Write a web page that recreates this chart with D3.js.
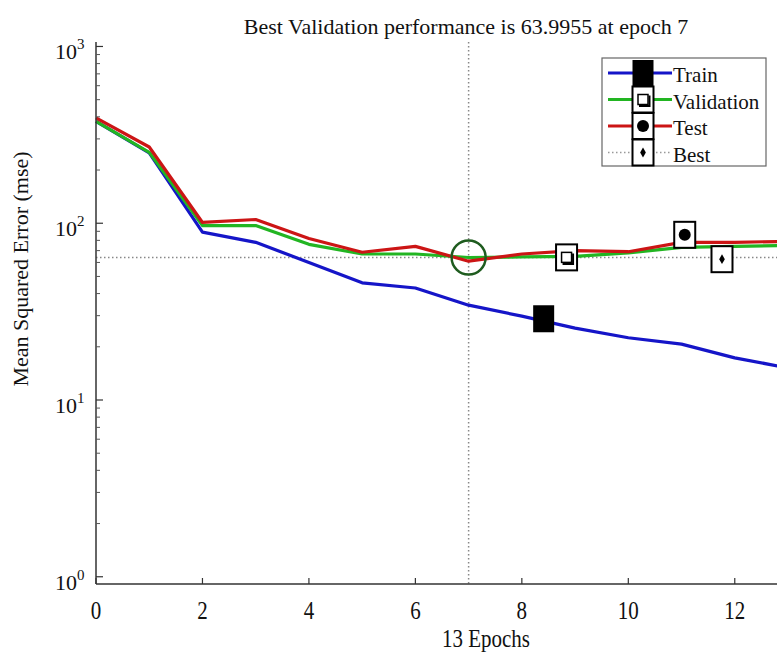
<!DOCTYPE html>
<html>
<head>
<meta charset="utf-8">
<script src="https://cdn.jsdelivr.net/npm/d3@7"></script>
<style>
  body { margin: 0; background: #fff; }
  text { font-family: "Liberation Serif", "DejaVu Serif", serif; fill: #111; }
</style>
</head>
<body>
<div id="chart"></div>
<script>
// epochs and mse per series
var epochs = [0, 1, 2, 3, 4, 5, 6, 7, 8, 9, 10, 11, 12, 13];
var train = [377, 250, 89, 78, 60, 46, 43, 34.4, 29.8, 25.5, 22.5, 20.7, 17.3, 15.2];
var validation = [377, 252, 97, 97, 76, 67, 67, 64, 64.5, 65, 68, 73, 74, 75];
var test = [395, 270, 101, 105, 82, 68.5, 74, 61, 67, 70, 69, 78, 78, 79];
var bestEpoch = 7, bestValue = 63.9955;
var xTicks = [0, 2, 4, 6, 8, 10, 12];
var yDecades = [0, 1, 2, 3];
// stray marker boxes scattered on the plot: [epoch, mse, kind]
var strayMarks = [[8.41, 29, "fill"], [8.84, 64.1, "square"], [11.06, 86, "dot"], [11.76, 62.6, "diamond"]];
var legendNames = ["Train", "Validation", "Test", "Best"];

var width = 777, height = 653;
var font = "Liberation Serif, DejaVu Serif, serif";
var svg = d3.select("#chart").append("svg")
  .attr("width", width).attr("height", height)
  .attr("font-family", font);

var x = d3.scaleLinear().domain([0, 13]).range([96, 788]);
var y = d3.scaleLog().domain([0.91, 1060]).range([584, 42]);

// best lines
svg.append("line")
  .attr("x1", x(0)).attr("x2", width).attr("y1", y(bestValue)).attr("y2", y(bestValue))
  .attr("stroke", "#888").attr("stroke-width", 1.5).attr("stroke-dasharray", "1.5,2.5");
svg.append("line")
  .attr("x1", x(bestEpoch)).attr("x2", x(bestEpoch)).attr("y1", y.range()[1]).attr("y2", y.range()[0])
  .attr("stroke", "#888").attr("stroke-width", 1.5).attr("stroke-dasharray", "1.5,2.5");

var line = d3.line()
  .x(function(d, i) { return x(epochs[i]); })
  .y(function(d) { return y(d); });

var series = [
  { values: train, color: "#1515c8" },
  { values: validation, color: "#22b522" },
  { values: test, color: "#cc1515" }
];
series.forEach(function(s) {
  svg.append("path")
    .datum(s.values)
    .attr("d", line)
    .attr("fill", "none")
    .attr("stroke", s.color)
    .attr("stroke-width", 3.2)
    .attr("stroke-linejoin", "round");
});

// best circle
svg.append("circle")
  .attr("cx", x(bestEpoch)).attr("cy", y(bestValue)).attr("r", 17)
  .attr("fill", "none").attr("stroke", "#1f5c1f").attr("stroke-width", 2.5);

// axes
svg.append("line").attr("x1", 96).attr("x2", 96).attr("y1", 42).attr("y2", 584)
  .attr("stroke", "#333").attr("stroke-width", 1.5);
svg.append("line").attr("x1", 96).attr("x2", width).attr("y1", 584).attr("y2", 584)
  .attr("stroke", "#333").attr("stroke-width", 1.5);

// bottom texts look a bit stretched vertically in the original
xTicks.forEach(function(t) {
  svg.append("line").attr("x1", x(t)).attr("x2", x(t)).attr("y1", 584).attr("y2", 578)
    .attr("stroke", "#333").attr("stroke-width", 1.2);
  svg.append("text")
    .attr("transform", "translate(" + x(t) + ",619) scale(1,1.15)")
    .attr("text-anchor", "middle").attr("font-size", 21).text(t);
});

yDecades.forEach(function(p) {
  var v = Math.pow(10, p);
  svg.append("line").attr("x1", 96).attr("x2", 103).attr("y1", y(v)).attr("y2", y(v))
    .attr("stroke", "#333").attr("stroke-width", 1.2);
  if (p < 3) {
    for (var k = 2; k <= 9; k++) {
      svg.append("line").attr("x1", 96).attr("x2", 100).attr("y1", y(k * v)).attr("y2", y(k * v))
        .attr("stroke", "#555").attr("stroke-width", 1);
    }
  }
  var lab = svg.append("text").attr("x", 55).attr("y", y(v) + 13)
    .attr("font-size", 22);
  lab.append("tspan").text("10");
  lab.append("tspan").attr("font-size", 15).attr("dy", -10).text(p);
});

// titles
svg.append("text").attr("x", 466).attr("y", 34).attr("text-anchor", "middle")
  .attr("font-size", 22).text("Best Validation performance is " + bestValue + " at epoch " + bestEpoch);
svg.append("text").attr("transform", "translate(486,647) scale(1,1.15)").attr("text-anchor", "middle")
  .attr("font-size", 21).text("13 Epochs");
svg.append("text").attr("transform", "translate(28,269) rotate(-90)").attr("text-anchor", "middle")
  .attr("font-size", 22).text("Mean Squared Error (mse)");

function markBox(g, cx, cy, kind) {
  if (kind === "fill") {
    g.append("rect").attr("x", cx - 10.5).attr("y", cy - 13).attr("width", 21).attr("height", 27).attr("fill", "#000");
    return;
  }
  g.append("rect").attr("x", cx - 10.5).attr("y", cy - 13).attr("width", 21).attr("height", 26)
    .attr("fill", "#fff").attr("stroke", "#000").attr("stroke-width", 2);
  if (kind === "square") {
    g.append("rect").attr("x", cx - 5).attr("y", cy - 5).attr("width", 10).attr("height", 10)
      .attr("fill", "#fff").attr("stroke", "#000").attr("stroke-width", 1.5);
    g.append("path").attr("d", "M" + (cx - 4) + "," + (cy + 6.5) + "H" + (cx + 6.5) + "V" + (cy - 4))
      .attr("fill", "none").attr("stroke", "#000").attr("stroke-width", 2);
  } else if (kind === "dot") {
    g.append("circle").attr("cx", cx).attr("cy", cy).attr("r", 6).attr("fill", "#000");
  } else {
    g.append("path").attr("d", d3.symbol(d3.symbolDiamond, 28)()).attr("transform", "translate(" + cx + "," + cy + ")")
      .attr("fill", "#000");
  }
}

strayMarks.forEach(function(m) {
  markBox(svg, x(m[0]), y(m[1]), m[2]);
});

// legend
var lg = svg.append("g");
lg.append("rect").attr("x", 602).attr("y", 58).attr("width", 164).attr("height", 108)
  .attr("fill", "#fff").attr("stroke", "#666").attr("stroke-width", 1.2);
var legendColors = ["#1515c8", "#22b522", "#cc1515", "#999"];
var legendKinds = ["fill", "square", "dot", "diamond"];
legendNames.forEach(function(name, i) {
  var ly = 73 + i * 26.5;
  lg.append("line").attr("x1", 608).attr("x2", 672).attr("y1", ly).attr("y2", ly)
    .attr("stroke", legendColors[i])
    .attr("stroke-width", i < 3 ? 3.2 : 1.5)
    .attr("stroke-dasharray", i < 3 ? null : "1.5,2.5");
  lg.append("text").attr("x", 673).attr("y", ly + 9).attr("font-size", 21).text(name);
});
legendKinds.forEach(function(k, i) {
  var ly = 73 + i * 26.5;
  markBox(lg, 643, ly, k);
});
</script>
</body>
</html>
